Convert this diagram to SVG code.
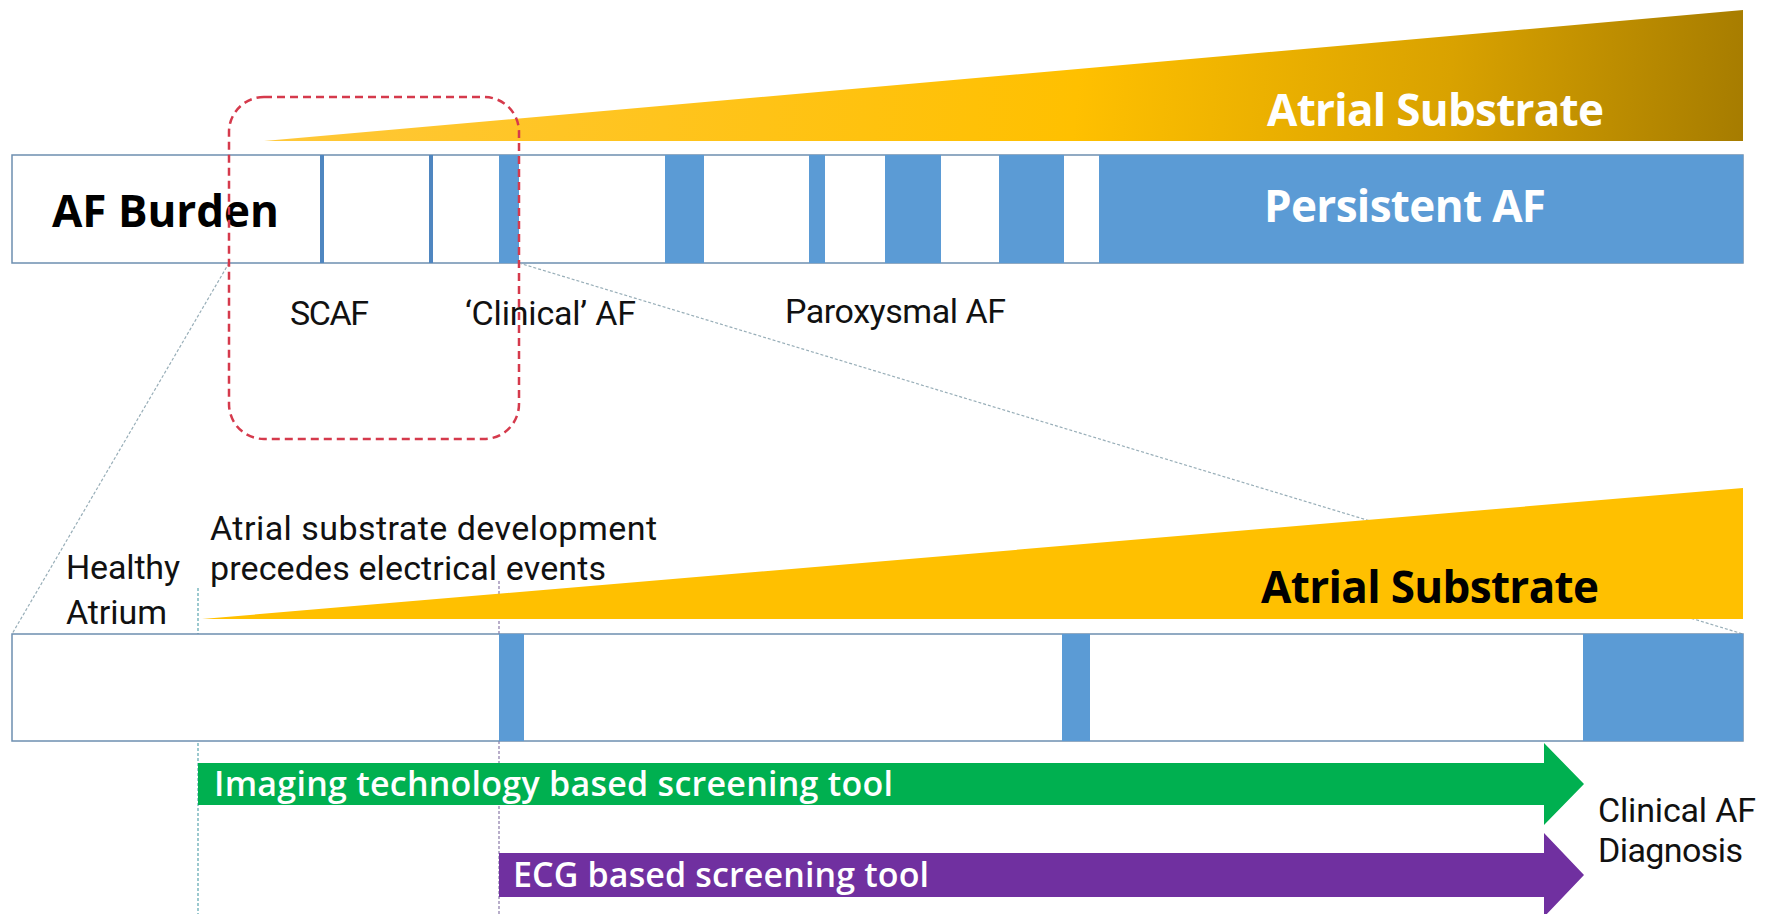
<svg xmlns="http://www.w3.org/2000/svg" width="1777" height="914" viewBox="0 0 1777 914">
<defs>
<linearGradient id="gold" x1="264" y1="10" x2="1743" y2="141" gradientUnits="userSpaceOnUse">
<stop offset="0" stop-color="#FFC83A"/>
<stop offset="0.55" stop-color="#FFC000"/>
<stop offset="0.8" stop-color="#D9A200"/>
<stop offset="1" stop-color="#A67C00"/>
</linearGradient>
<style>
.bar{fill:#ffffff;stroke:#6D8FB0;stroke-width:1.5}
.blue{fill:#5B9BD5}
.thin{fill:#4F86C0}
.lbl{font-family:Roboto,"Open Sans","Liberation Sans",sans-serif;font-size:34px;fill:#111}
.big{font-family:"Open Sans","Noto Sans","Liberation Sans",sans-serif;font-size:44px;font-weight:bold}
.arr{font-family:"Open Sans","Noto Sans","Liberation Sans",sans-serif;font-size:34px;font-weight:600;fill:#fff}
.dot{fill:none;stroke:#98AEB8;stroke-width:1.2;stroke-dasharray:3 2}
</style>
</defs>
<rect width="1777" height="914" fill="#ffffff"/>

<g id="top-substrate">
<polygon points="264,141 1743,10 1743,141" fill="url(#gold)"/>
<text class="big" x="1267" y="126" fill="#ffffff" textLength="337">Atrial Substrate</text>
</g>

<g id="top-bar">
<rect class="bar" x="12" y="155" width="1731" height="108"/>
<rect class="thin" x="320" y="155" width="4" height="108"/>
<rect class="thin" x="429" y="155" width="4" height="108"/>
<rect class="blue" x="499" y="155" width="20" height="108"/>
<rect class="blue" x="665" y="155" width="39" height="108"/>
<rect class="blue" x="809" y="155" width="16" height="108"/>
<rect class="blue" x="885" y="155" width="56" height="108"/>
<rect class="blue" x="999" y="155" width="65" height="108"/>
<rect class="blue" x="1099" y="155" width="644" height="108"/>
<text class="big" x="52" y="227" fill="#000000" textLength="227">AF Burden</text>
<text class="big" x="1264" y="222" fill="#ffffff" textLength="282">Persistent AF</text>
</g>

<g id="top-labels">
<text class="lbl" x="290" y="325" textLength="79">SCAF</text>
<text class="lbl" x="465" y="325" textLength="171">‘Clinical’ AF</text>
<text class="lbl" x="785" y="323" textLength="221">Paroxysmal AF</text>
</g>

<g id="connectors">
<line class="dot" x1="229" y1="263" x2="12" y2="634"/>
<line class="dot" x1="519" y1="263" x2="1743" y2="634"/>
<line x1="198" y1="588" x2="198" y2="914" fill="none" stroke="#5AA6B0" stroke-width="1.2" stroke-dasharray="3 2"/>
<line x1="499" y1="581" x2="499" y2="914" fill="none" stroke="#8A7AA8" stroke-width="1.2" stroke-dasharray="3 2"/>
</g>

<g id="highlight">
<rect x="229" y="97" width="290" height="342" rx="35" ry="35" fill="none" stroke="#D53A4C" stroke-width="2.5" stroke-dasharray="8 5"/>
</g>

<g id="bottom-substrate">
<polygon points="202,619 1743,488 1743,619" fill="#FFC000"/>
<text class="big" x="1261" y="603" fill="#000000" textLength="338">Atrial Substrate</text>
</g>

<g id="bottom-labels">
<text class="lbl" x="210" y="540" textLength="447">Atrial substrate development</text>
<text class="lbl" x="210" y="580" textLength="396">precedes electrical events</text>
<text class="lbl" x="66" y="579" textLength="114">Healthy</text>
<text class="lbl" x="66" y="624" textLength="101">Atrium</text>
</g>

<g id="bottom-bar">
<rect class="bar" x="12" y="634" width="1731" height="107"/>
<rect class="blue" x="499" y="634" width="25" height="107"/>
<rect class="blue" x="1062" y="634" width="28" height="107"/>
<rect class="blue" x="1583" y="634" width="160" height="107"/>
</g>

<g id="imaging-arrow">
<polygon points="198,763 1544,763 1544,743 1584,784 1544,825 1544,805 198,805" fill="#00B050"/>
<text class="arr" x="214" y="796" textLength="679">Imaging technology based screening tool</text>
</g>

<g id="ecg-arrow">
<polygon points="499,853 1544,853 1544,833 1584,875 1544,917 1544,897 499,897" fill="#7030A0"/>
<text class="arr" x="513" y="887" textLength="416">ECG based screening tool</text>
</g>

<g id="diagnosis">
<text class="lbl" x="1598" y="822" textLength="158">Clinical AF</text>
<text class="lbl" x="1598" y="862" textLength="145">Diagnosis</text>
</g>
</svg>
